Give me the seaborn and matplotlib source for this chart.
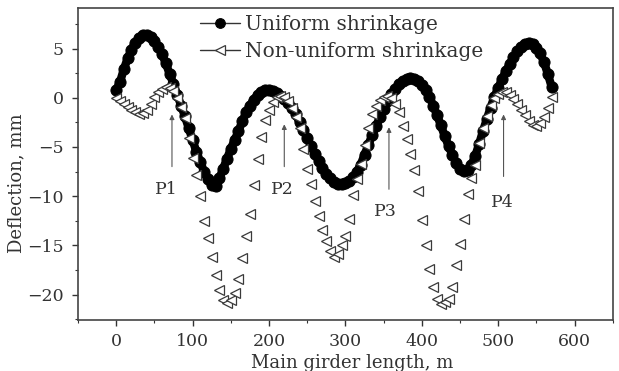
import numpy as np
import pandas as pd
import matplotlib
matplotlib.use("Agg")
import matplotlib.pyplot as plt
import seaborn as sns
from matplotlib.ticker import MultipleLocator

# ---- data ----
x_pos = list(range(0, 575, 5))  # main girder length, m

uniform = [0.8, 1.6, 2.9, 4.0, 4.9, 5.6, 6.1, 6.4, 6.4, 6.2,
           5.8, 5.2, 4.4, 3.5, 2.4, 1.4, 0.3, -0.8, -1.9, -3.1,
           -4.3, -5.5, -6.5, -7.5, -8.3, -8.9, -9.0, -8.2, -7.2, -6.2,
           -5.2, -4.3, -3.4, -2.4, -1.5, -0.8, -0.2, 0.3, 0.6, 0.8,
           0.8, 0.7, 0.5, 0.2, -0.1, -0.5, -1.0, -1.7, -2.5, -3.3,
           -4.1, -4.9, -5.7, -6.4, -7.1, -7.7, -8.2, -8.6, -8.8, -8.8,
           -8.7, -8.5, -8.1, -7.5, -6.8, -5.8, -4.8, -3.8, -2.9, -2.0,
           -1.1, -0.3, 0.4, 0.9, 1.4, 1.7, 1.9, 2.0, 1.9, 1.7,
           1.3, 0.8, 0.1, -0.8, -1.8, -2.8, -3.9, -4.9, -5.8, -6.6,
           -7.2, -7.4, -7.3, -6.8, -5.9, -4.7, -3.4, -2.2, -1.0, 0.1,
           1.0, 1.9, 2.7, 3.4, 4.1, 4.7, 5.2, 5.5, 5.6, 5.5,
           5.1, 4.5, 3.6, 2.4, 1.1]

non_uniform = [0.0, -0.3, -0.6, -0.9, -1.2, -1.5, -1.7, -1.6, -1.2, -0.6,
               0.1, 0.6, 0.9, 1.1, 1.0, 0.7, 0.0, -0.9, -2.1, -4.1,
               -6.1, -7.8, -10.0, -12.5, -14.3, -16.2, -18.0, -19.5, -20.5, -20.9,
               -20.6, -19.8, -18.4, -16.3, -14.0, -11.8, -8.9, -6.2, -4.0, -2.3,
               -1.2, -0.4, 0.1, 0.2, 0.1, -0.3, -1.0, -2.0, -3.1, -5.2,
               -7.2, -8.8, -10.5, -12.0, -13.4, -14.6, -15.6, -16.2, -15.9, -15.0,
               -14.0, -12.3, -9.9, -8.3, -6.7, -4.8, -3.1, -1.7, -0.8, -0.2,
               0.1, 0.2, 0.0, -0.6, -1.5, -2.9, -4.2, -5.7, -7.3, -9.5,
               -12.4, -15.0, -17.4, -19.2, -20.4, -21.0, -20.8, -20.4, -19.2, -17.0,
               -14.9, -12.3, -9.8, -8.2, -6.8, -4.6, -3.1, -1.9, -0.7, 0.0,
               0.4, 0.6, 0.6, 0.3, -0.1, -0.6, -1.2, -1.8, -2.4, -2.8,
               -2.9, -2.6, -2.0, -1.0, 0.1]

series_names = ["Uniform shrinkage", "Non-uniform shrinkage"]

point_labels = ["P1", "P2", "P3", "P4"]
point_x = [73, 220, 357, 507]          # arrow x positions, m
point_tip = [-1.7, -2.7, -3.0, -1.7]   # arrow head, mm
point_tail = [-7.0, -7.0, -9.3, -8.0]  # arrow tail, mm
label_xy = [(66, -9.3), (218, -9.3), (353, -11.6), (506, -10.6)]

x_ticks = [0, 100, 200, 300, 400, 500, 600]
y_ticks = [5, 0, -5, -10, -15, -20]
y_tick_labels = ["5", "0", "\u22125", "\u221210", "\u221215", "\u221220"]

assert len(x_pos) == len(uniform) == len(non_uniform)

df = pd.DataFrame({
    "x": x_pos * 2,
    "y": uniform + non_uniform,
    "series": [series_names[0]] * len(x_pos) + [series_names[1]] * len(x_pos),
})

# ---- style ----
sns.set_theme(style="ticks")
plt.rcParams["font.family"] = ["DejaVu Serif"]
text_col = "#333333"

fig = plt.figure(figsize=(6.19, 3.71), dpi=100)
ax = fig.add_axes([0.126, 0.137, 0.864, 0.841])

sns.lineplot(data=df[df.series == series_names[0]], x="x", y="y", ax=ax,
             color="black", linewidth=6.0, marker="o", markersize=8,
             markerfacecolor="black", markeredgecolor="black",
             label=series_names[0], sort=False, zorder=2)
sns.lineplot(data=df[df.series == series_names[1]], x="x", y="y", ax=ax,
             color="#333333", linewidth=0.0, marker="<", markersize=7.5,
             markerfacecolor="white", markeredgecolor="#3a3a3a",
             markeredgewidth=0.9, label=series_names[1], sort=False, zorder=3)

# annotations
for lab, px, tip, tail, (lx, ly) in zip(point_labels, point_x, point_tip,
                                         point_tail, label_xy):
    ax.annotate("", xy=(px, tip), xytext=(px, tail),
                arrowprops=dict(arrowstyle="-|>", color="#555555", lw=0.8,
                                mutation_scale=7, shrinkA=0, shrinkB=0))
    ax.text(lx, ly, lab, ha="center", va="center", fontsize=12.5,
            color=text_col)

ax.set_xlim(-50, 650)
ax.set_ylim(-22.6, 9.1)
ax.set_xticks(x_ticks)
ax.set_yticks(y_ticks)
ax.set_yticklabels(y_tick_labels)
ax.xaxis.set_minor_locator(MultipleLocator(50))
ax.yaxis.set_minor_locator(MultipleLocator(2.5))
ax.tick_params(which="major", direction="out", length=4, width=1.0,
               labelsize=12.5, colors=text_col, pad=5)
ax.tick_params(which="minor", direction="out", length=2.5, width=0.8,
               colors=text_col)
ax.tick_params(axis="y", pad=6)

for s in ax.spines.values():
    s.set_visible(True)
    s.set_color("#444444")
    s.set_linewidth(1.2)

ax.set_xlabel("Main girder length, m", fontsize=13, color=text_col)
ax.set_ylabel("Deflection, mm", fontsize=13, color=text_col)
ax.xaxis.set_label_coords(0.512, -0.108)
ax.yaxis.set_label_coords(-0.098, 0.44)

leg = ax.legend(loc="upper left", bbox_to_anchor=(0.228, 0.978), frameon=False,
                fontsize=14.5, handlelength=2.0, handletextpad=0.25,
                labelspacing=0.4, borderaxespad=0.0, borderpad=0.0)
for t in leg.get_texts():
    t.set_color(text_col)
for h in leg.legend_handles:
    h.set_linewidth(1.0)
    h.set_color("#333333")
    h.set_markersize(7)

fig.savefig("out.png", dpi=100)
